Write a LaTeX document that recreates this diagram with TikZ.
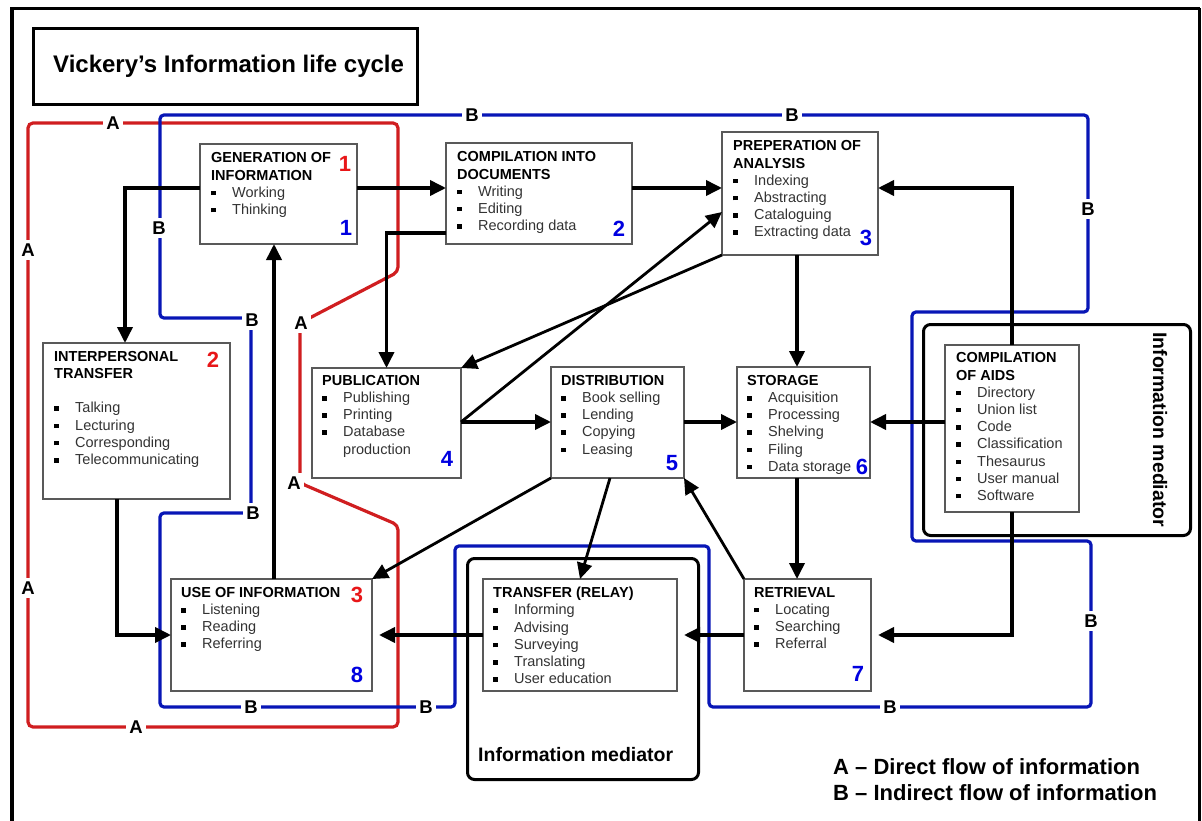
\documentclass[tikz,border=0pt]{standalone}
\usepackage{fontspec}
\setmainfont{Liberation Sans}
\usetikzlibrary{arrows.meta}
\definecolor{loopred}{RGB}{208,30,32}
\definecolor{loopblue}{RGB}{8,22,182}
\definecolor{numred}{RGB}{232,22,24}
\definecolor{numblue}{RGB}{0,0,224}
% bullet item inside a stage box
\newcommand{\litem}[1]{\makebox[21pt][l]{\rule[2pt]{4.5pt}{4.5pt}}{\color{black!80}#1}}
\begin{document}
\begin{tikzpicture}[x=1pt,y=-1pt,
  stage/.style={draw=black!65, line width=1.1pt, fill=white, anchor=north west, inner sep=0pt, outer sep=0pt},
  stagetxt/.style={anchor=north west, inner sep=0pt, align=left, font=\fontsize{14.5}{17.2}\selectfont},
  arr/.style={line width=3.6pt, -{Triangle[length=16pt,width=15pt]}},
  darr/.style={line width=2.8pt, -{Triangle[length=16pt,width=15pt]}},
  num/.style={inner sep=0pt, font=\fontsize{22}{22}\selectfont\bfseries},
  lab/.style={fill=white, inner sep=3.5pt, font=\fontsize{18.5}{18.5}\selectfont\bfseries},
  med/.style={draw, line width=3pt, rounded corners=7pt, anchor=north west, inner sep=0pt},
  medtxt/.style={inner sep=0pt, font=\fontsize{19.5}{19.5}\selectfont\bfseries},
  redloop/.style={draw=loopred, line width=3.2pt, rounded corners=5pt},
  blueloop/.style={draw=loopblue, line width=3.2pt, rounded corners=4pt}
]
\useasboundingbox (0,0) rectangle (1202,821);

% outer frame
\draw[line width=3.5pt] (12,840) -- (12,8.5) -- (1199.5,8.5);
\draw[line width=2.4pt] (1199.5,8.5) -- (1199.5,840);

% title
\node[draw, line width=2.7pt, anchor=north west, minimum width=384, minimum height=76, inner sep=0pt] (ttlbox) at (32,27.5) {};
\node[anchor=base west, inner sep=0pt, font=\fontsize{24}{24}\selectfont\bfseries] (ttl) at (53,73) {Vickery’s Information life cycle};

% guide lines for connectors
\coordinate (yTop) at (0,188);
\coordinate (yMid) at (0,422);
\coordinate (yLow) at (0,635);
\coordinate (xSto) at (797,0);
\coordinate (xUse) at (274,0);

% A: direct flow of information
\draw[redloop] (28,123) -- (398,123) -- (398,272) -- (300,323) -- (300,483) -- (398,525)
  -- (398,727) -- (28,727) -- cycle;
\node[lab] (la1) at (113,123) {A};
\node[lab] (la2) at (301,323) {A};
\node[lab] (la3) at (294,483) {A};
\node[lab] (la4) at (136,727) {A};
\node[lab] (la5) at (28,250) {A};
\node[lab] (la6) at (28,588) {A};

% B: indirect flow of information
\draw[blueloop] (251,318) -- (160,318) -- (160,115) -- (1088,115) -- (1088,312) -- (912,312)
  -- (912,541) -- (1091,541) -- (1091,707) -- (709,707) -- (709,546) -- (455,546)
  -- (455,707) -- (160,707) -- (160,513) -- (251,513) -- cycle;
\node[lab] (lb1) at (252,320) {B};
\node[lab] (lb2) at (159,228) {B};
\node[lab] (lb3) at (472,115) {B};
\node[lab] (lb4) at (792,115) {B};
\node[lab] (lb5) at (1088,209) {B};
\node[lab] (lb6) at (1091,621) {B};
\node[lab] (lb7) at (890,707) {B};
\node[lab] (lb8) at (426,707) {B};
\node[lab] (lb9) at (251,707) {B};
\node[lab] (lb10) at (253,513) {B};

% information mediators
\node[med, minimum width=267, minimum height=211] (medR) at (922,323) {};
\node[medtxt, rotate=-90, anchor=west] (medRt) at (1160,332) {Information mediator};
\node[med, minimum width=231, minimum height=221] (medB) at (466,557) {};
\node[medtxt, anchor=west] (medBt) at (478,755) {Information mediator};

% stages
\node[stage, minimum width=157, minimum height=100] (gen) at (200,144) {};
\node[stage, minimum width=186, minimum height=101] (comp) at (446,143) {};
\node[stage, minimum width=156, minimum height=123] (prep) at (722,132) {};
\node[stage, minimum width=187, minimum height=156] (inter) at (43,343) {};
\node[stage, minimum width=149, minimum height=110] (pub) at (312,368) {};
\node[stage, minimum width=133, minimum height=111] (dist) at (551,367) {};
\node[stage, minimum width=133, minimum height=111] (stor) at (737,367) {};
\node[stage, minimum width=134, minimum height=167] (aids) at (945,345) {};
\node[stage, minimum width=201, minimum height=112] (use) at (171,579) {};
\node[stage, minimum width=194, minimum height=112] (trans) at (483,579) {};
\node[stage, minimum width=127, minimum height=112] (retr) at (744,579) {};

\node[stagetxt] (gent) at ([xshift=11pt,yshift=-8.5pt]gen.north west)
  {\textbf{GENERATION OF}\\\textbf{INFORMATION}\\\litem{Working}\\\litem{Thinking}};
\node[stagetxt] (compt) at ([xshift=11pt,yshift=-8.5pt]comp.north west)
  {\textbf{COMPILATION INTO}\\\textbf{DOCUMENTS}\\\litem{Writing}\\\litem{Editing}\\\litem{Recording data}};
\node[stagetxt] (prept) at ([xshift=11pt,yshift=-8.5pt]prep.north west)
  {\textbf{PREPERATION OF}\\\textbf{ANALYSIS}\\\litem{Indexing}\\\litem{Abstracting}\\\litem{Cataloguing}\\\litem{Extracting data}};
\node[stagetxt] (intert) at ([xshift=11pt,yshift=-8pt]inter.north west)
  {\textbf{INTERPERSONAL}\\\textbf{TRANSFER}\\[17.2pt]\litem{Talking}\\\litem{Lecturing}\\\litem{Corresponding}\\\litem{Telecommunicating}};
\node[stagetxt] (pubt) at ([xshift=10pt,yshift=-7pt]pub.north west)
  {\textbf{PUBLICATION}\\\litem{Publishing}\\\litem{Printing}\\\litem{Database}\\\hspace*{21pt}{\color{black!80}production}};
\node[stagetxt] (distt) at ([xshift=10pt,yshift=-8pt]dist.north west)
  {\textbf{DISTRIBUTION}\\\litem{Book selling}\\\litem{Lending}\\\litem{Copying}\\\litem{Leasing}};
\node[stagetxt] (stort) at ([xshift=10pt,yshift=-8pt]stor.north west)
  {\textbf{STORAGE}\\\litem{Acquisition}\\\litem{Processing}\\\litem{Shelving}\\\litem{Filing}\\\litem{Data storage}};
\node[stagetxt] (aidst) at ([xshift=11pt,yshift=-7.5pt]aids.north west)
  {\textbf{COMPILATION}\\\textbf{OF AIDS}\\\litem{Directory}\\\litem{Union list}\\\litem{Code}\\\litem{Classification}\\\litem{Thesaurus}\\\litem{User manual}\\\litem{Software}};
\node[stagetxt] (uset) at ([xshift=10pt,yshift=-8pt]use.north west)
  {\textbf{USE OF INFORMATION}\\\litem{Listening}\\\litem{Reading}\\\litem{Referring}};
\node[stagetxt] (transt) at ([xshift=10pt,yshift=-8pt]trans.north west)
  {\textbf{TRANSFER (RELAY)}\\\litem{Informing}\\\litem{Advising}\\\litem{Surveying}\\\litem{Translating}\\\litem{User education}};
\node[stagetxt] (retrt) at ([xshift=10pt,yshift=-8pt]retr.north west)
  {\textbf{RETRIEVAL}\\\litem{Locating}\\\litem{Searching}\\\litem{Referral}};

% stage numbers
\node[num, numred] (n1r) at (345,164) {1};
\node[num, numblue] (n1b) at (346,228) {1};
\node[num, numblue] (n2b) at (619,229) {2};
\node[num, numblue] (n3b) at (866,238) {3};
\node[num, numred] (n2r) at (213,360) {2};
\node[num, numblue] (n4b) at (447,459) {4};
\node[num, numblue] (n5b) at (672,463) {5};
\node[num, numblue] (n6b) at (862,467) {6};
\node[num, numred] (n3r) at (357,595) {3};
\node[num, numblue] (n8b) at (357,675) {8};
\node[num, numblue] (n7b) at (858,674) {7};

% flows between stages
\draw[arr] (gen.east |- yTop) -- (comp.west |- yTop);
\draw[arr] (gen.west |- yTop) -| ([xshift=-11.5pt]inter.north);
\draw[arr] (comp.east |- yTop) -- (prep.west |- yTop);
\draw[arr] ([yshift=-39.5pt]comp.west) -| (pub.north);
\draw[darr] (prep.south west) -- (pub.north east);
\draw[darr] (pub.east |- yMid) -- ([yshift=-18.5pt]prep.west);
\draw[arr] (pub.east |- yMid) -- (dist.west |- yMid);
\draw[arr] (dist.east |- yMid) -- (stor.west |- yMid);
\draw[arr] (prep.south -| xSto) -- (stor.north -| xSto);
\draw[arr] (aids.north) |- (prep.east |- yTop);
\draw[arr] (aids.west |- yMid) -- (stor.east |- yMid);
\draw[arr, shorten >=7pt] (aids.south) |- (retr.east |- yLow);
\draw[arr] (stor.south -| xSto) -- (retr.north -| xSto);
\draw[darr] (retr.north west) -- (dist.south east);
\draw[darr] ([xshift=-7.5pt]dist.south) -- (trans.north);
\draw[darr] (dist.south west) -- (use.north east);
\draw[arr, shorten >=7pt] (retr.west |- yLow) -- (trans.east |- yLow);
\draw[arr, shorten >=7pt] (trans.west |- yLow) -- (use.east |- yLow);
\draw[arr] ([xshift=-19.5pt]inter.south) |- (use.west |- yLow);
\draw[arr] (use.north -| xUse) -- (gen.south -| xUse);

% key
\node[anchor=west, inner sep=0pt, font=\fontsize{22}{22}\selectfont\bfseries] (keyA) at (833,767) {A – Direct flow of information};
\node[anchor=west, inner sep=0pt, font=\fontsize{22}{22}\selectfont\bfseries] (keyB) at (833,793) {B – Indirect flow of information};
\end{tikzpicture}
\end{document}
